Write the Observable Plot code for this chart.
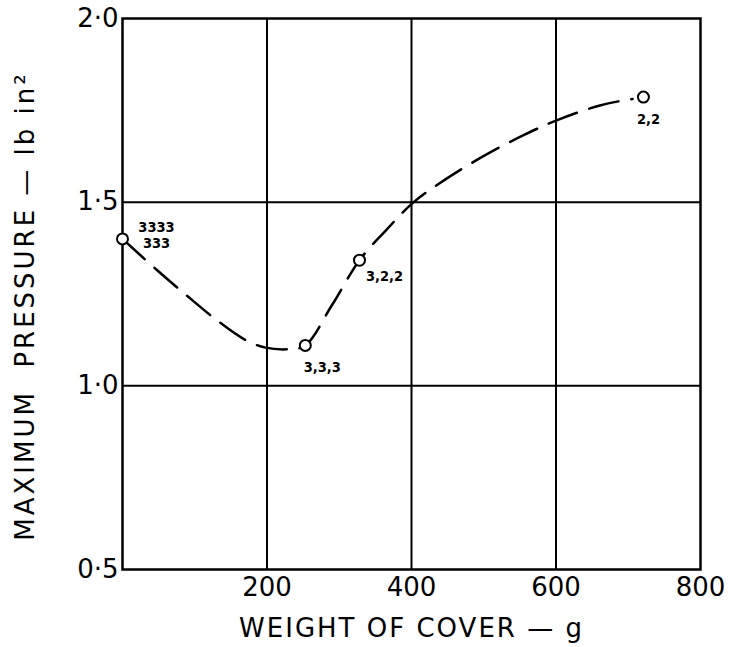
<!DOCTYPE html>
<html>
<head>
<meta charset="utf-8">
<script src="https://cdn.jsdelivr.net/npm/d3@7"></script>
<script src="https://cdn.jsdelivr.net/npm/@observablehq/plot@0.6"></script>
<style>
  html, body { margin: 0; padding: 0; background: #fff; }
  #chart svg { display: block; }
</style>
</head>
<body>
<div id="chart"></div>
<script>
// Measured points (circles) and their replicate labels
const pointWeight = [0, 253, 328, 721];
const pointPressure = [1.40, 1.11, 1.342, 1.786];
const pointLabels = ["3333\n333", "3,3,3", "3,2,2", "2,2"];

// Hand-drawn dashed curve
const curveWeight = [0, 46, 87, 129, 170, 198, 232, 253, 290, 328, 364, 403, 447, 502, 558, 600, 662, 706];
const curvePressure = [1.40, 1.318, 1.249, 1.181, 1.125, 1.104, 1.10, 1.11, 1.22, 1.342, 1.422, 1.50, 1.562, 1.628, 1.685, 1.722, 1.764, 1.781];

// Axes
const xTicks = [200, 400, 600, 800];
const xTickLabels = ["200", "400", "600", "800"];
const yTicks = [0.5, 1.0, 1.5, 2.0];
const yTickLabels = ["0·5", "1·0", "1·5", "2·0"];
const xGrid = [200, 400, 600];
const yGrid = [1.0, 1.5];
const xTitle = "WEIGHT OF COVER — g";
const yTitle = "MAXIMUM  PRESSURE — lb in²";

const points = pointWeight.map((w, i) => ({w, p: pointPressure[i], label: pointLabels[i]}));
const curve = curveWeight.map((w, i) => ({w, p: curvePressure[i]}));

const labelMark = (lab, dx, dy) => Plot.text(points, {
  filter: d => d.label === lab, x: "w", y: "p", text: "label",
  dx, dy, fontSize: 14.5, fontWeight: "bold", lineHeight: 1.1, fill: "black",
  fontFamily: "DejaVu Sans Condensed, DejaVu Sans"
});

const chart = Plot.plot({
  width: 733,
  height: 647,
  marginLeft: 122,
  marginRight: 33,
  marginTop: 18,
  marginBottom: 78,
  x: {domain: [0, 800]},
  y: {domain: [0.5, 2.0]},
  style: {fontFamily: "DejaVu Sans", fontSize: "26px", background: "white", color: "black"},
  marks: [
    Plot.ruleX(xGrid, {stroke: "black", strokeWidth: 2}),
    Plot.ruleY(yGrid, {stroke: "black", strokeWidth: 2}),
    Plot.frame({stroke: "black", strokeWidth: 2.5}),
    Plot.axisX({ticks: xTicks, tickFormat: d => xTickLabels[xTicks.indexOf(d)], tickSize: 0, tickPadding: 8, label: null, fontSize: 26}),
    Plot.axisY({ticks: yTicks, tickFormat: d => yTickLabels[yTicks.indexOf(d)], tickSize: 0, tickPadding: 4, label: null, fontSize: 26}),
    Plot.line(curve, {x: "w", y: "p", curve: "catmull-rom", stroke: "black", strokeWidth: 2.5, strokeDasharray: "30,13"}),
    Plot.dot(points, {x: "w", y: "p", r: 5.5, stroke: "black", fill: "white", strokeWidth: 2}),
    labelMark("3333\n333", 34, -4),
    labelMark("3,3,3", 17, 21),
    labelMark("3,2,2", 25, 16),
    labelMark("2,2", 5, 22),
    Plot.text([xTitle], {frameAnchor: "bottom", text: d => d, dy: 67, fontSize: 26, fill: "black"}),
    Plot.text([yTitle], {frameAnchor: "left", textAnchor: "middle", text: d => d, rotate: -90, dx: -97, dy: 12, fontSize: 26, fill: "black"})
  ]
});
document.getElementById("chart").appendChild(chart);
// letter spacing for titles
chart.querySelectorAll("text").forEach(t => {
  if (t.textContent === xTitle) t.setAttribute("letter-spacing", "2");
  if (t.textContent === yTitle) t.setAttribute("letter-spacing", "3");
});
</script>
</body>
</html>
